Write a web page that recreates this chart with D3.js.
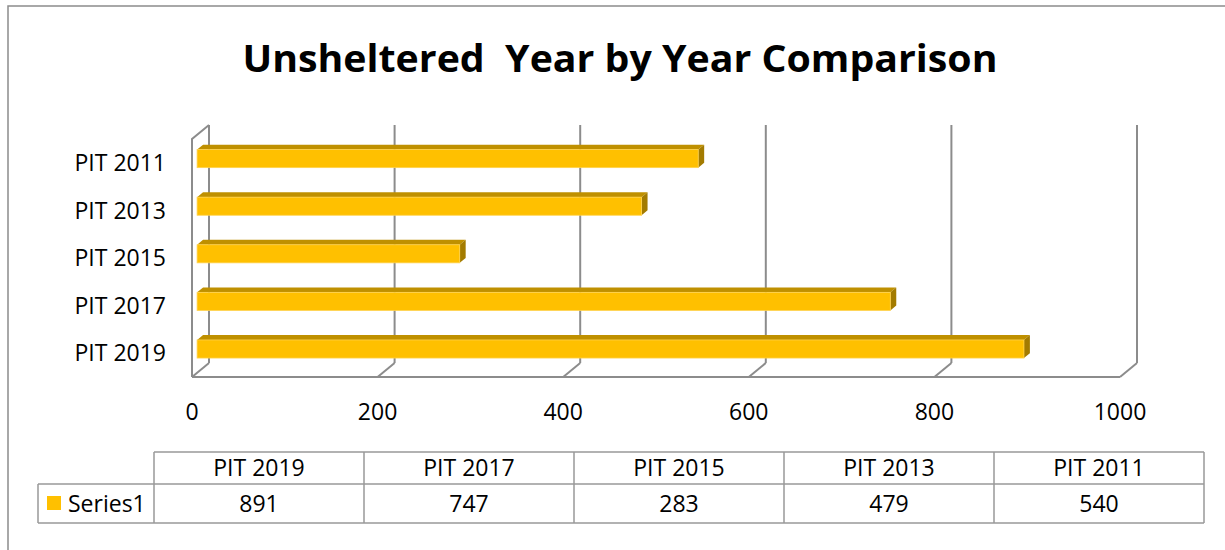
<!DOCTYPE html>
<html>
<head>
<meta charset="utf-8">
<script src="https://cdn.jsdelivr.net/npm/d3@7"></script>
<style>
  body { margin: 0; background: #fff; }
  text { font-family: "Open Sans", sans-serif; fill: #000; }
</style>
</head>
<body>
<div id="chart"></div>
<script>
// data, as shown in the table (left to right)
var categories = ["PIT 2019", "PIT 2017", "PIT 2015", "PIT 2013", "PIT 2011"];
var values = [891, 747, 283, 479, 540];
var tickValues = [0, 200, 400, 600, 800, 1000];
var seriesName = "Series1";
var title = "Unsheltered\u00a0 Year by Year Comparison";

var data = categories.map(function (c, i) { return {cat: c, value: values[i]}; });

var W = 1225, H = 550;
var depthX = 17, depthY = -14;   // full depth offset of the 3d box
var d1 = 0.3, d2 = 0.65;          // bar front / back depth

var svg = d3.select("#chart")
  .append("svg")
    .attr("width", W)
    .attr("height", H);

// outer chart border
svg.append("rect")
  .attr("x", 8).attr("y", 6)
  .attr("width", W + 20).attr("height", H + 20)
  .attr("fill", "none")
  .attr("stroke", "#8c8c8c")
  .attr("stroke-width", 1.5);

svg.append("text")
  .attr("x", 620).attr("y", 72)
  .attr("text-anchor", "middle")
  .attr("font-size", 37)
  .attr("font-weight", "bold")
  .attr("textLength", 755)
  .attr("lengthAdjust", "spacingAndGlyphs")
  .text(title);

var x = d3.scaleLinear()
  .domain([0, 1000])
  .range([192, 1120]);

var y = d3.scaleBand()
  .domain(categories)
  .range([377, 139])
  .paddingInner(0.62)
  .paddingOuter(0.31);

var yBand = d3.scaleBand()
  .domain(categories)
  .range([377, 139]);

var floorY = 377, topY = 139;
var grid = svg.append("g")
  .attr("stroke", "#8c8c8c")
  .attr("stroke-width", 2)
  .attr("fill", "none");

// back wall gridlines
grid.selectAll(".gl")
  .data(tickValues)
  .enter()
  .append("line")
    .attr("x1", function (d) { return x(d) + depthX; })
    .attr("x2", function (d) { return x(d) + depthX; })
    .attr("y1", topY + depthY)
    .attr("y2", floorY + depthY);

// floor depth lines
grid.selectAll(".fl")
  .data(tickValues)
  .enter()
  .append("line")
    .attr("x1", function (d) { return x(d); })
    .attr("x2", function (d) { return x(d) + depthX; })
    .attr("y1", floorY)
    .attr("y2", floorY + depthY);

// floor front edge
grid.append("line")
  .attr("x1", x(0)).attr("x2", x(1000))
  .attr("y1", floorY).attr("y2", floorY);

// left wall
grid.append("path")
  .attr("d", "M" + x(0) + "," + floorY + "V" + topY + "L" + (x(0) + depthX) + "," + (topY + depthY));

// bars
var bars = svg.append("g").selectAll("g")
  .data(data)
  .enter()
  .append("g");

function px(v, d) { return x(v) + depthX * d; }
function py(yy, d) { return yy + depthY * d; }

bars.append("path")   // top face
  .attr("fill", "#bf9000")
  .attr("d", function (d) {
    var t = y(d.cat);
    return "M" + px(0, d1) + "," + py(t, d1) +
      "L" + px(d.value, d1) + "," + py(t, d1) +
      "L" + px(d.value, d2) + "," + py(t, d2) +
      "L" + px(0, d2) + "," + py(t, d2) + "Z";
  });

bars.append("path")   // side face
  .attr("fill", "#a37b00")
  .attr("d", function (d) {
    var t = y(d.cat), b = y(d.cat) + y.bandwidth();
    return "M" + px(d.value, d1) + "," + py(t, d1) +
      "L" + px(d.value, d2) + "," + py(t, d2) +
      "L" + px(d.value, d2) + "," + py(b, d2) +
      "L" + px(d.value, d1) + "," + py(b, d1) + "Z";
  });

bars.append("rect")   // front face
  .attr("fill", "#ffc000")
  .attr("stroke", "#ffd24d")
  .attr("stroke-width", 0.8)
  .attr("x", px(0, d1))
  .attr("y", function (d) { return py(y(d.cat), d1); })
  .attr("width", function (d) { return x(d.value) - x(0); })
  .attr("height", y.bandwidth());

// category labels
svg.append("g").selectAll("text")
  .data(categories)
  .enter()
  .append("text")
    .attr("x", 166)
    .attr("y", function (d) { return yBand(d) + yBand.bandwidth() / 2; })
    .attr("dy", "0.36em")
    .attr("text-anchor", "end")
    .attr("font-size", 23)
    .text(function (d) { return d; });

// value axis labels
svg.append("g").selectAll("text")
  .data(tickValues)
  .enter()
  .append("text")
    .attr("x", function (d) { return x(d); })
    .attr("y", 412)
    .attr("dy", "0.36em")
    .attr("text-anchor", "middle")
    .attr("font-size", 23)
    .text(function (d) { return d; });

// data table
var colX = d3.scaleBand()
  .domain(categories)
  .range([154, 1204]);
var rowTop = 452, rowMid = 484, rowBot = 523, legLeft = 38;

var table = svg.append("g");
var tl = table.append("g")
  .attr("stroke", "#999")
  .attr("stroke-width", 1.5)
  .attr("fill", "none");

tl.append("line").attr("x1", colX.range()[0]).attr("x2", colX.range()[1]).attr("y1", rowTop).attr("y2", rowTop);
tl.append("line").attr("x1", legLeft).attr("x2", colX.range()[1]).attr("y1", rowMid).attr("y2", rowMid);
tl.append("line").attr("x1", legLeft).attr("x2", colX.range()[1]).attr("y1", rowBot).attr("y2", rowBot);
tl.append("line").attr("x1", legLeft).attr("x2", legLeft).attr("y1", rowMid).attr("y2", rowBot);
tl.selectAll(".v")
  .data(categories.concat(["end"]))
  .enter()
  .append("line")
    .attr("x1", function (d, i) { return 154 + i * colX.bandwidth(); })
    .attr("x2", function (d, i) { return 154 + i * colX.bandwidth(); })
    .attr("y1", rowTop)
    .attr("y2", rowBot);

table.selectAll(".hd")
  .data(categories)
  .enter()
  .append("text")
    .attr("x", function (d) { return colX(d) + colX.bandwidth() / 2; })
    .attr("y", (rowTop + rowMid) / 2)
    .attr("dy", "0.36em")
    .attr("text-anchor", "middle")
    .attr("font-size", 23)
    .text(function (d) { return d; });

table.selectAll(".vl")
  .data(data)
  .enter()
  .append("text")
    .attr("x", function (d) { return colX(d.cat) + colX.bandwidth() / 2; })
    .attr("y", (rowMid + rowBot) / 2)
    .attr("dy", "0.36em")
    .attr("text-anchor", "middle")
    .attr("font-size", 23)
    .text(function (d) { return d.value; });

table.append("rect")
  .attr("x", 47).attr("y", 496)
  .attr("width", 14).attr("height", 14)
  .attr("fill", "#ffc000");

table.append("text")
  .attr("x", 68)
  .attr("y", (rowMid + rowBot) / 2)
  .attr("dy", "0.36em")
  .attr("font-size", 23)
  .text(seriesName);
</script>
</body>
</html>
